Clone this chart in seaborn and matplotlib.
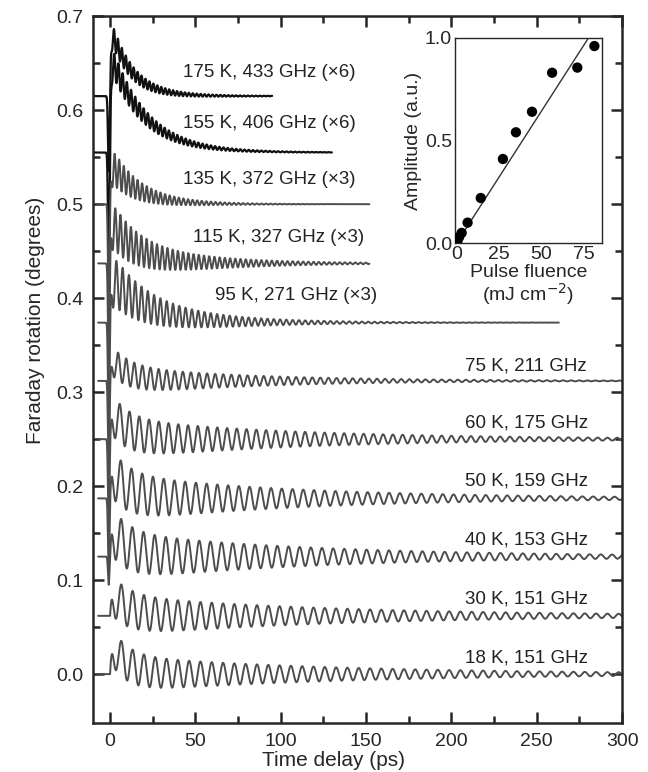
import numpy as np
import matplotlib
matplotlib.use('Agg')
import matplotlib.pyplot as plt
import seaborn as sns

# Faraday rotation traces, listed top to bottom
temps = [175, 155, 135, 115, 95, 75, 60, 50, 40, 30, 18]
freqs_ghz = [433, 406, 372, 327, 271, 211, 175, 159, 153, 151, 151]
gains = ['×6', '×6', '×3', '×3', '×3', '', '', '', '', '', '']
baselines = [0.615, 0.555, 0.500, 0.437, 0.374, 0.312, 0.250, 0.187, 0.125, 0.062, 0.000]
osc_amp = [0.012, 0.015, 0.020, 0.025, 0.028, 0.016, 0.022, 0.026, 0.026, 0.022, 0.020]
osc_decay = [25, 30, 25, 44, 45, 80, 110, 110, 120, 130, 130]
bg_amp = [0.075, 0.105, 0.045, 0.045, 0.050, 0.025, 0.030, 0.030, 0.030, 0.025, 0.035]
bg_decay = [12, 20, 15, 15, 20, 10, 10, 10, 10, 10, 9]
rise_time = [0.6, 0.6, 0.8, 0.8, 1.0, 1.2, 1.2, 1.2, 1.2, 1.5, 1.5]
spike_depth = [0.08, 0.12, 0.12, 0.12, 0.12, 0.10, 0.10, 0.08, 0.03, 0.0, 0.0]
t_start = [-10, -10, -7, -7, -7, -7, -7, -7, -7, -7, -7]
t_end = [95, 130, 152, 152, 263, 300, 300, 300, 300, 300, 300]
label_t = [42.7, 42.7, 42.7, 48.5, 61.4, 208, 208, 208, 208, 208, 208]
label_y = [0.640, 0.586, 0.526, 0.465, 0.403, 0.328, 0.267, 0.205, 0.143, 0.080, 0.017]

# inset: oscillation amplitude vs pump fluence
fluence = [0.5, 1.5, 3.0, 6.5, 14.3, 27.4, 35.1, 44.6, 56.5, 71.4, 81.5]
amplitude = [0.01, 0.03, 0.05, 0.10, 0.22, 0.41, 0.54, 0.64, 0.83, 0.855, 0.96]
fit_x = [0, 80]
fit_y = [0, 1.025]

sns.set_style('ticks')
plt.rcParams['font.family'] = ['Liberation Sans', 'DejaVu Sans']

fig = plt.figure(figsize=(6.48, 7.72), dpi=100)
ax = fig.add_axes([0.1435, 0.0635, 0.8165, 0.9155])

for i in range(len(temps)):
    t = np.arange(t_start[i], t_end[i], 0.05)
    f = freqs_ghz[i] * 1e-3
    tp = np.clip(t, 0, None)
    signal = (bg_amp[i] * np.exp(-tp / bg_decay[i])
              + osc_amp[i] * np.exp(-tp / osc_decay[i]) * np.cos(2 * np.pi * f * tp))
    signal = np.where(t < 0, 0, signal * (1 - np.exp(-tp / rise_time[i])))
    spike = -spike_depth[i] * np.exp(-((t + 0.8) / 0.6) ** 2)
    y = baselines[i] + signal + spike
    color = '#111111' if i < 2 else '#4d4d4d'
    lw = 1.6 if i < 2 else 1.4
    sns.lineplot(x=t, y=y, ax=ax, color=color, lw=lw, estimator=None, sort=False)

    txt = f'{temps[i]} K, {freqs_ghz[i]} GHz'
    if gains[i]:
        txt += f' ({gains[i]})'
    ax.text(label_t[i], label_y[i], txt, fontsize=13.5, ha='left', va='center', color='#222222')

ax.set_xlim(-10, 300)
ax.set_ylim(-0.052, 0.7)
ax.set_xticks([0, 50, 100, 150, 200, 250, 300])
ax.set_xticks([25, 75, 125, 175, 225, 275], minor=True)
ax.set_yticks([0.0, 0.1, 0.2, 0.3, 0.4, 0.5, 0.6, 0.7])
ax.set_yticks(np.arange(0.05, 0.7, 0.1), minor=True)
ax.tick_params(which='both', direction='in', top=True, right=True, width=1.8, labelsize=14, pad=7)
ax.tick_params(which='major', length=8)
ax.tick_params(which='minor', length=5)
for s in ax.spines.values():
    s.set_linewidth(1.8)
ax.set_xlabel('Time delay (ps)', fontsize=15, labelpad=3)
ax.xaxis.set_label_coords(0.455, -0.04)
ax.set_ylabel('Faraday rotation (degrees)', fontsize=15, labelpad=8)
ax.yaxis.set_label_coords(-0.09, 0.57)

# inset
ins = fig.add_axes([0.702, 0.685, 0.227, 0.266])
sns.lineplot(x=fit_x, y=fit_y, ax=ins, color='#333333', lw=1.0)
sns.scatterplot(x=fluence, y=amplitude, ax=ins, color='black', s=55, edgecolor='none', zorder=3)
ins.set_xlim(-1, 86)
ins.set_ylim(0, 1.0)
ins.set_xticks([0, 25, 50, 75])
ins.set_yticks([0.0, 0.5, 1.0])
ins.set_yticklabels(['0.0', '0.5', '1.0'])
ins.tick_params(direction='in', length=0, labelsize=14, pad=2)
for s in ins.spines.values():
    s.set_linewidth(1.0)
ins.set_xlabel('Pulse fluence\n(mJ cm$^{-2}$)', fontsize=14, labelpad=1, linespacing=1.0)
ins.set_ylabel('Amplitude (a.u.)', fontsize=14, labelpad=2)

fig.savefig('out.png', dpi=100)
